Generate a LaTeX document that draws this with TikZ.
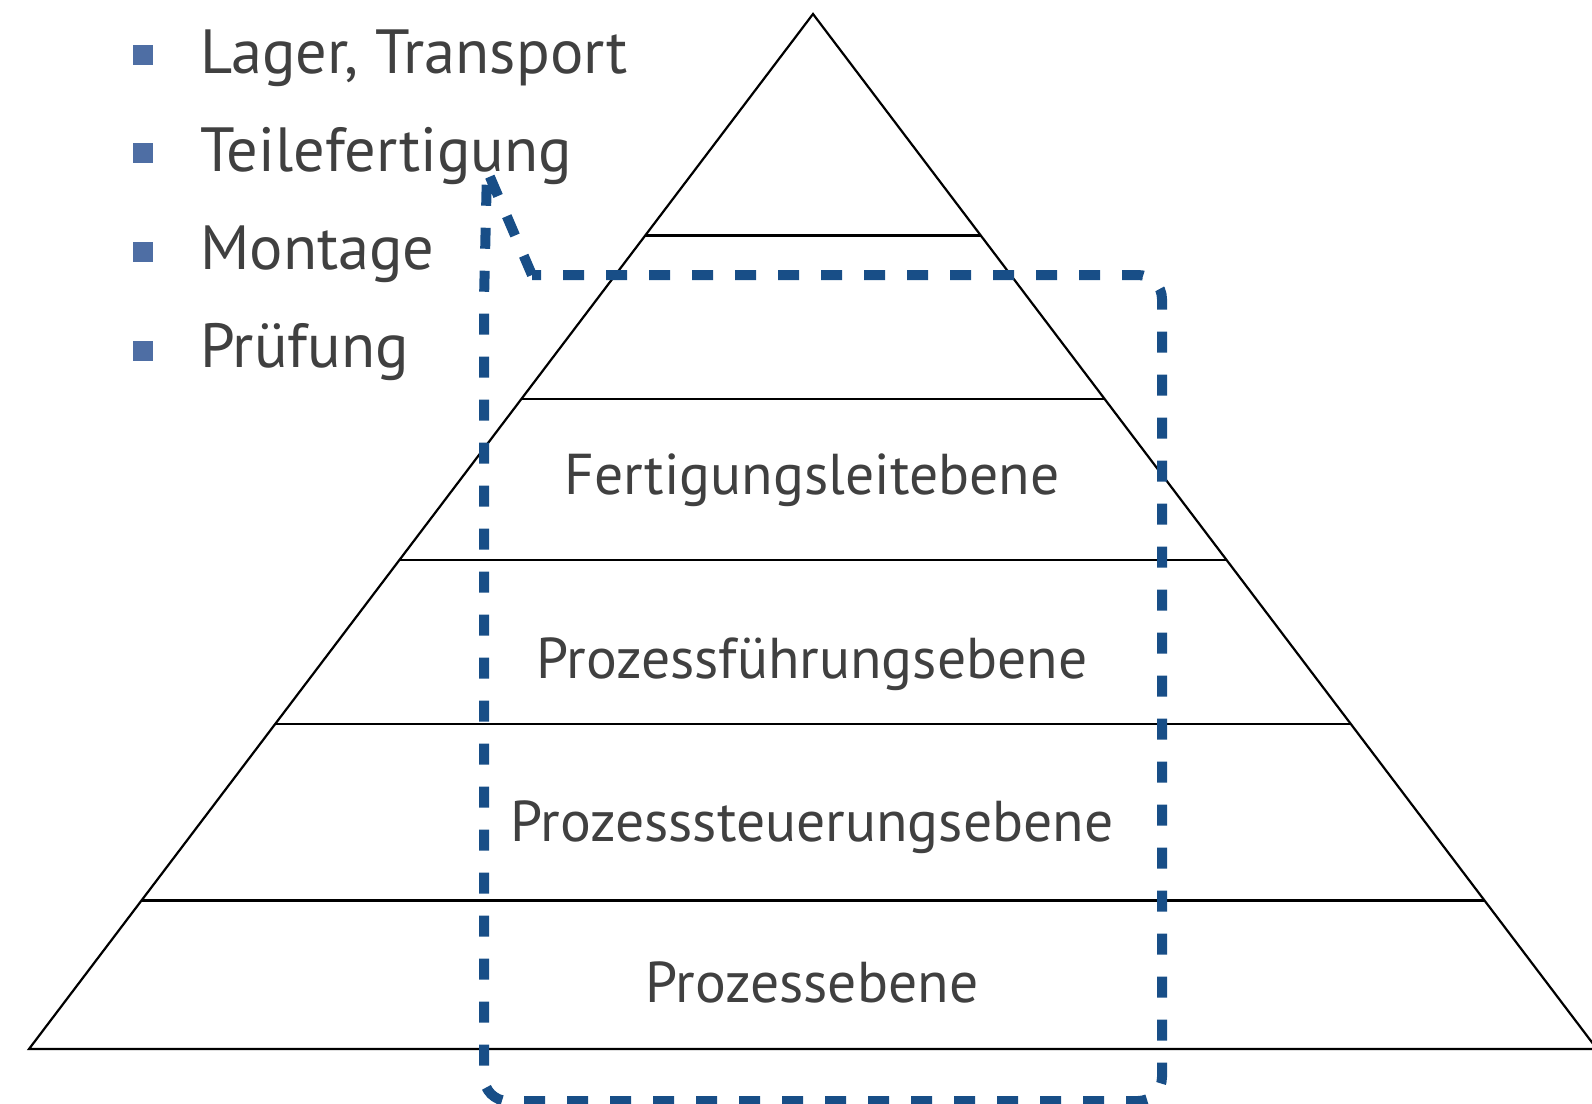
\documentclass[tikz,border=0pt]{standalone}
\usepackage{fontspec}
\setmainfont{PT Sans}
\usetikzlibrary{calc}
\definecolor{txt}{RGB}{64,64,64}
\definecolor{bul}{RGB}{78,110,164}
\definecolor{frame}{RGB}{24,78,135}

\begin{document}
\begin{tikzpicture}[x=1pt,y=-1pt,
  level/.style={font=\fontsize{57.6}{64}\selectfont, text=txt, anchor=base, inner sep=0pt},
  item/.style={font=\fontsize{62.4}{70}\selectfont, text=txt, anchor=base west, inner sep=0pt},
  bulletbox/.style={fill=bul, minimum size=20pt, inner sep=0pt},
  edge/.style={line width=2.2pt, line join=miter},
  callout/.style={draw=frame, line width=10pt, dash pattern=on 21pt off 22pt}]

\useasboundingbox (0,0) rectangle (1592,1103);

% pyramid outline
\coordinate (apex) at (813,14);
\coordinate (bl) at (29,1049);
\coordinate (br) at (1597,1049);
\draw[edge] (apex) -- (bl) -- (br) -- cycle;

% level separators
\foreach \t [count=\i] in {0.2140,0.3720,0.5279,0.6860,0.8565} {
  \coordinate (sl\i) at ($(apex)!\t!(bl)$);
  \coordinate (sr\i) at ($(apex)!\t!(br)$);
  \draw[edge] (sl\i) -- (sr\i);
}

% level labels
\node[level] (fle) at (812,494)  {Fertigungsleitebene};
\node[level] (pfe) at (812,678)  {Prozessführungsebene};
\node[level] (pse) at (812,841)  {Prozesssteuerungsebene};
\node[level] (pe)  at (812,1002) {Prozessebene};

% bullet list
\node[bulletbox] (b1) at (143,55)  {};
\node[bulletbox] (b2) at (143,153) {};
\node[bulletbox] (b3) at (143,252) {};
\node[bulletbox] (b4) at (143,351) {};
\node[item] (i1) at (200,73)  {Lager, Transport};
\node[item] (i2) at (200,171) {Teilefertigung};
\node[item] (i3) at (200,269) {Montage};
\node[item] (i4) at (200,367) {Prüfung};

% dashed callout frame with pointer
\coordinate (tip) at (487,170);
\coordinate (ptop) at (532,275);
\coordinate (pleft) at (484,300);
\coordinate (fbl) at (484,1101);
\coordinate (fbr) at (1162,1101);
\coordinate (ftr) at (1162,275);
\draw[callout] (ptop) -- (tip) -- (pleft) [rounded corners=24pt] -- (fbl) -- (fbr) -- (ftr) -- (ptop);
\end{tikzpicture}
\end{document}
